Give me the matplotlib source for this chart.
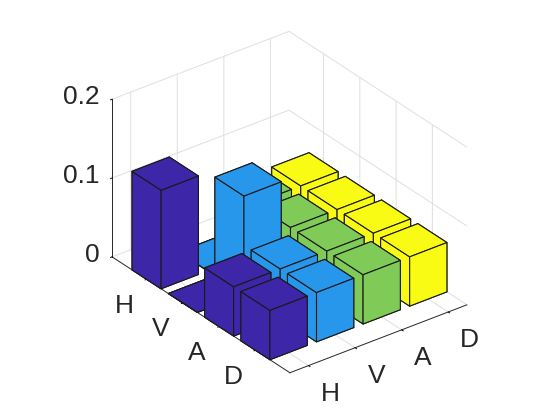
import numpy as np
import matplotlib
matplotlib.use('Agg')
import matplotlib.pyplot as plt
from mpl_toolkits.mplot3d import proj3d

plt.rcParams['font.family'] = ['Liberation Sans', 'DejaVu Sans']

ticks = [1, 2, 3, 4]
tick_labels = ['H', 'V', 'A', 'D']
z_ticks = [0, 0.1, 0.2]
z_tick_labels = ['0', '0.1', '0.2']

# one list per column, rows in order H V A D
col_h = [0.125, 0, 0.0625, 0.0625]
col_v = [0, 0.125, 0.0625, 0.0625]
col_a = [0.0625, 0.0625, 0.0625, 0.0625]
col_d = [0.0625, 0.0625, 0.0625, 0.0625]
columns = [col_h, col_v, col_a, col_d]
colors = ['#3E26A8', '#2797EB', '#80CB58', '#F9FB15']

fig = plt.figure(figsize=(5.6, 4.2), dpi=100)
ax = fig.add_axes([3.8 / 560, 2.3 / 420, 1, 1], projection='3d', proj_type='ortho')
ax.computed_zorder = False
ax.set_box_aspect((223, 292, 182), zoom=0.948)
ax.view_init(elev=30, azim=-127.5)

# back to front so the bars cover each other the right way
w = 0.8
order = 0
for c in range(3, -1, -1):
    for r in range(4):
        ax.bar3d(c + 1 - w / 2, r + 1 - w / 2, 0, w, w, columns[c][r], color=colors[c],
                 edgecolor='#1a1a1a', linewidth=0.8, shade=False, zorder=order)
        order += 1

ax.set_xlim(0.6, 4.4, view_margin=0)
ax.set_ylim(4.95, 0.05, view_margin=0)
ax.set_zlim(0, 0.2, view_margin=0)

ax.set_xticks(ticks)
ax.set_yticks(ticks)
ax.set_zticks(z_ticks)
ax.set_xticklabels([])
ax.set_yticklabels([])
ax.set_zticklabels([])

for axis in (ax.xaxis, ax.yaxis, ax.zaxis):
    axis.set_pane_color((1, 1, 1, 0))
    axis.pane.set_edgecolor((1, 1, 1, 0))
    axis._axinfo['grid'].update(color='#DFDFDF', linewidth=0.7)
    axis._axinfo['axisline']['color'] = '#262626'
    axis.line.set_color('#262626')
    axis.line.set_linewidth(0.7)
    axis._axinfo['tick']['color'] = '#262626'
    axis._axinfo['tick']['linewidth'] = {True: 0.7, False: 0.5}
    axis._axinfo['tick']['inward_factor'] = 0.1
    axis._axinfo['tick']['outward_factor'] = 0.0


def tick_text(x, y, z, s, dx, dy, ha):
    # 3D tick labels can't be nudged freely, so place them from the projected tick
    xp, yp, _ = proj3d.proj_transform(x, y, z, ax.get_proj())
    ax.annotate(s, (xp, yp), xytext=(dx, dy), textcoords='offset pixels', ha=ha, va='baseline',
                fontsize=19, color='#262626', annotation_clip=False, zorder=100)


for t, s in zip(ticks, tick_labels):
    tick_text(t, 4.95, 0, s, 21.5, -35, 'center')
    tick_text(0.6, t, 0, s, -22.5, -33.5, 'center')
for t, s in zip(z_ticks, z_tick_labels):
    tick_text(0.6, 0.05, t, s, -12.5, -5, 'right')

fig.savefig('out.png', dpi=100)
